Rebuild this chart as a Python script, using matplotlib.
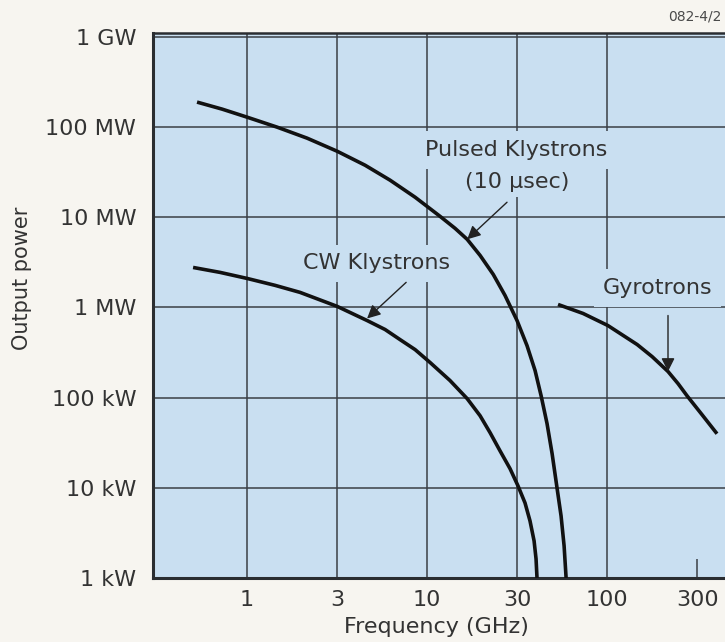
import matplotlib.pyplot as plt

# valores (frequência em GHz, potência em W)
pulsado_freq = [0.527, 0.726, 1.0, 1.468, 2.154, 3.162, 4.525, 6.23, 8.58, 11.8, 14.3, 16.7,
                19.7, 23.3, 27.1, 31.6, 35.9, 39.8, 43.0, 46.4, 49.5, 52.7, 55.5, 57.7, 59.2]
pulsado_pot = [1.896e8, 1.585e8, 1.29e8, 1.0e8, 7.55e7, 5.41e7, 3.78e7, 2.58e7, 1.67e7, 1.026e7,
               7.55e6, 5.7e6, 3.78e6, 2.33e6, 1.36e6, 7.17e5, 3.78e5, 2.0e5, 1.05e5, 5.14e4,
               2.39e4, 1.0e4, 4.89e3, 2.27e3, 1.0e3]

cw_freq = [0.501, 0.708, 1.0, 1.43, 1.97, 3.16, 4.64, 5.84, 7.08, 8.58, 10.4, 13.4, 16.7,
           19.7, 22.4, 25.4, 28.9, 32.0, 35.0, 37.3, 39.3, 40.3, 40.8]
cw_pot = [2.78e6, 2.45e6, 2.1e6, 1.76e6, 1.47e6, 1.03e6, 7.17e5, 5.7e5, 4.4e5, 3.41e5,
          2.45e5, 1.55e5, 9.75e4, 6.3e4, 4.08e4, 2.58e4, 1.63e4, 1.05e4, 6.8e3, 4.3e3,
          2.58e3, 1.63e3, 1.0e3]

giro_freq = [53.4, 73.6, 101, 147, 178, 218, 248, 278, 337, 408]
giro_pot = [1.08e6, 8.58e5, 6.31e5, 3.88e5, 2.85e5, 1.95e5, 1.43e5, 1.05e5, 6.47e4, 3.98e4]

# ticks
x_ticks = [1, 10 ** 0.5, 10, 10 ** 1.5, 100]
x_rotulos = ['1', '3', '10', '30', '100']
x_tick_extra = [10 ** 2.5]
x_rotulo_extra = ['300']
y_ticks = [1e3, 1e4, 1e5, 1e6, 1e7, 1e8, 1e9]
y_rotulos = ['1 kW', '10 kW', '100 kW', '1 MW', '10 MW', '100 MW', '1 GW']

fundo = '#c9dff1'
grade = '#3a3f45'
texto = '#333333'
fonte = 16

plt.rcParams['font.family'] = ['DejaVu Sans']

fig = plt.figure(figsize=(7.25, 6.42), dpi=100, facecolor='#f7f5f0')
ax = fig.add_axes([153 / 725, 64 / 642, 572 / 725, 545 / 642])
ax.set_facecolor(fundo)
ax.set_xscale('log')
ax.set_yscale('log')
ax.set_xlim(0.30, 452)
ax.set_ylim(1e3, 1.107e9)

# curvas
for fx, py in [(pulsado_freq, pulsado_pot), (cw_freq, cw_pot), (giro_freq, giro_pot)]:
    ax.plot(fx, py, color='#111111', lw=2.6, solid_capstyle='butt',
            solid_joinstyle='round', zorder=4)

# eixos e grade
ax.set_xticks(x_ticks)
ax.set_xticklabels(x_rotulos)
ax.set_xticks(x_tick_extra, minor=True)
ax.set_xticklabels(x_rotulo_extra, minor=True)
ax.set_yticks(y_ticks)
ax.set_yticklabels(y_rotulos)
ax.set_yticks([], minor=True)
ax.tick_params(axis='both', which='major', length=0, labelsize=fonte, colors=texto)
ax.tick_params(axis='x', which='major', pad=9)
ax.tick_params(axis='y', which='major', pad=12)
ax.tick_params(axis='x', which='minor', direction='in', length=14, width=1.1,
               color=grade, labelsize=fonte, labelcolor=texto, pad=9)
ax.set_axisbelow(True)
ax.grid(True, which='major', color=grade, lw=1.1)
ax.grid(False, which='minor')

ax.spines['right'].set_visible(False)
ax.spines['left'].set_linewidth(2.2)
ax.spines['bottom'].set_linewidth(2.2)
ax.spines['top'].set_linewidth(1.8)
for s in ['left', 'bottom', 'top']:
    ax.spines[s].set_color('#2a2d31')

ax.set_xlabel('Frequency (GHz)', fontsize=fonte, color=texto, va='center')
ax.xaxis.set_label_coords(0.495, -0.09)
ax.set_ylabel('Output power', fontsize=15, color=texto, va='center')
ax.yaxis.set_label_coords(-0.229, 0.55)

# rótulos das curvas (com fundo para esconder a grade)
caixa = dict(facecolor=fundo, edgecolor='none', boxstyle='square,pad=0.4')
ax.text(31.2, 5.55e7, 'Pulsed Klystrons', fontsize=fonte, color=texto,
        ha='center', va='center', bbox=caixa, zorder=3)
ax.text(31.6, 2.45e7, '(10 µsec)', fontsize=fonte, color=texto,
        ha='center', va='center', bbox=dict(facecolor=fundo, edgecolor='none',
                                            boxstyle='square,pad=0.22'), zorder=3)
ax.text(5.27, 3.08e6, 'CW Klystrons', fontsize=fonte, color=texto,
        ha='center', va='center', bbox=caixa, zorder=3)
ax.text(190, 1.63e6, 'Gyrotrons', fontsize=fonte, color=texto,
        ha='center', va='center', bbox=caixa, zorder=3)

# setas
seta = dict(arrowstyle='-|>', color='#222222', lw=1.0, mutation_scale=20, shrinkA=0, shrinkB=0)
ax.annotate('', xy=(16.7, 5.7e6), xytext=(27.8, 1.47e7), arrowprops=seta, zorder=5)
ax.annotate('', xy=(4.64, 7.55e5), xytext=(7.65, 1.9e6), arrowprops=seta, zorder=5)
ax.annotate('', xy=(218, 1.95e5), xytext=(218, 8.15e5), arrowprops=seta, zorder=5)

fig.text(668 / 725, 1 - 17 / 642, '082-4/2', fontsize=10, color='#4a4a4a', ha='left', va='center')

fig.savefig('out.png', dpi=100, facecolor=fig.get_facecolor())
